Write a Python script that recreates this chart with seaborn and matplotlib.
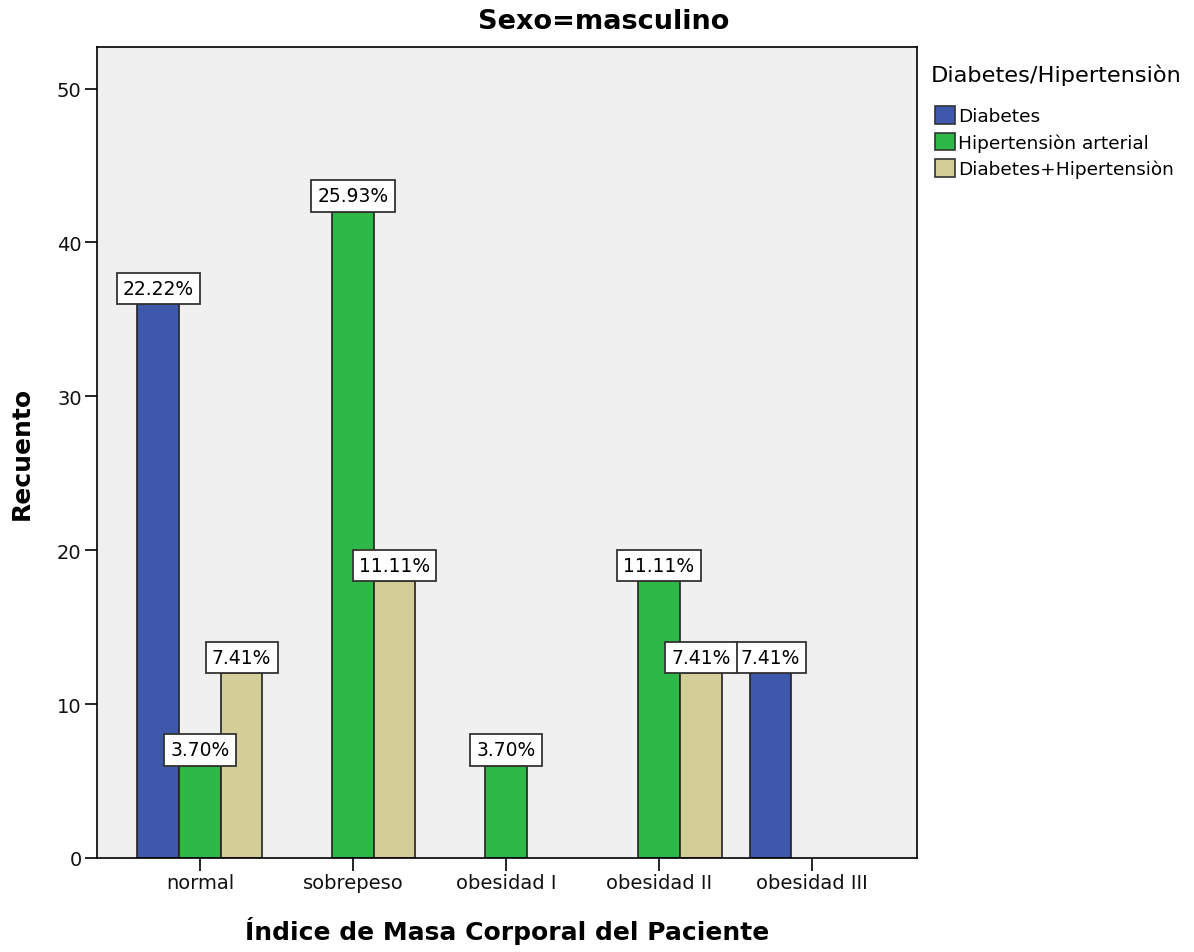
import matplotlib
matplotlib.use("Agg")
import matplotlib.pyplot as plt
from matplotlib.patches import Patch
import pandas as pd
import seaborn as sns

# Body mass index categories and patient counts per condition
categories = ["normal", "sobrepeso", "obesidad I", "obesidad II", "obesidad III"]
groups = ["Diabetes", "Hipertensiòn arterial", "Diabetes+Hipertensiòn"]
diabetes = [36, 0, 0, 0, 12]
hipertension = [6, 42, 6, 18, 0]
diabetes_hipertension = [12, 18, 0, 12, 0]
colors = ["#3E58AC", "#2EB848", "#D3CE97"]
y_ticks = [0, 10, 20, 30, 40, 50]

rows = []
for grp, vals in zip(groups, [diabetes, hipertension, diabetes_hipertension]):
    for cat, v in zip(categories, vals):
        if v > 0:
            rows.append({"imc": cat, "grupo": grp, "recuento": v})
df = pd.DataFrame(rows)
total = df["recuento"].sum()

sns.set_theme(style="ticks")
plt.rcParams["font.family"] = ["DejaVu Sans"]
plt.rcParams["text.color"] = "black"
plt.rcParams["axes.labelcolor"] = "black"

W, H = 1194, 953
fig = plt.figure(figsize=(W / 100, H / 100), dpi=100)
left, right, top, bottom = 97, 917, 48, 859
ax = fig.add_axes([left / W, 1 - bottom / H, (right - left) / W, (bottom - top) / H])
ax.set_facecolor("#F0F0F0")

sns.barplot(
    data=df, x="imc", y="recuento", hue="grupo",
    order=categories, hue_order=groups, palette=colors,
    width=0.817, dodge=True, saturation=1, errorbar=None,
    edgecolor="#222222", linewidth=1.2, legend=False, ax=ax,
)

# Percentage labels in white boxes sitting on each bar
for container in ax.containers:
    labels = [f"{v / total * 100:.2f}%" for v in container.datavalues]
    ax.bar_label(
        container, labels=labels, padding=4.5, fontsize=13.5, zorder=10,
        bbox=dict(boxstyle="square,pad=0.33", fc="white", ec="#333333", lw=1.3),
    )

ax.set_xlim(-0.673, 4.686)
ax.set_ylim(0, 52.7)
ax.set_yticks(y_ticks)
ax.tick_params(axis="both", direction="out", length=9, width=1.2, color="black",
               labelsize=14, pad=2, labelcolor="#111111")
for sp in ax.spines.values():
    sp.set_visible(True)
    sp.set_color("black")
    sp.set_linewidth(1.2)

ax.set_xlabel("Índice de Masa Corporal del Paciente", fontsize=18, fontweight="bold")
ax.set_ylabel("Recuento", fontsize=18, fontweight="bold")
ax.xaxis.set_label_coords(0.5, -0.072)
ax.yaxis.set_label_coords(-0.077, 0.5)

fig.text(604 / W, 1 - 22 / H, "Sexo=masculino", fontsize=19.5, fontweight="bold",
         ha="center", va="center")

# Legend title and entries to the right of the plot
fig.text(931 / W, 1 - 75 / H, "Diabetes/Hipertensiòn", fontsize=16.2,
         ha="left", va="center")
handles = [Patch(facecolor=c, edgecolor="#333333", linewidth=1.2, label=g)
           for c, g in zip(colors, groups)]
fig.legend(
    handles=handles, loc="upper left",
    bbox_to_anchor=(935 / W, 1 - 107 / H), frameon=False, fontsize=13.3,
    handlelength=1.1, handleheight=1.1, handletextpad=0.15,
    labelspacing=0.4, borderpad=0, borderaxespad=0,
)

fig.savefig("out.png", dpi=100, facecolor="white")
